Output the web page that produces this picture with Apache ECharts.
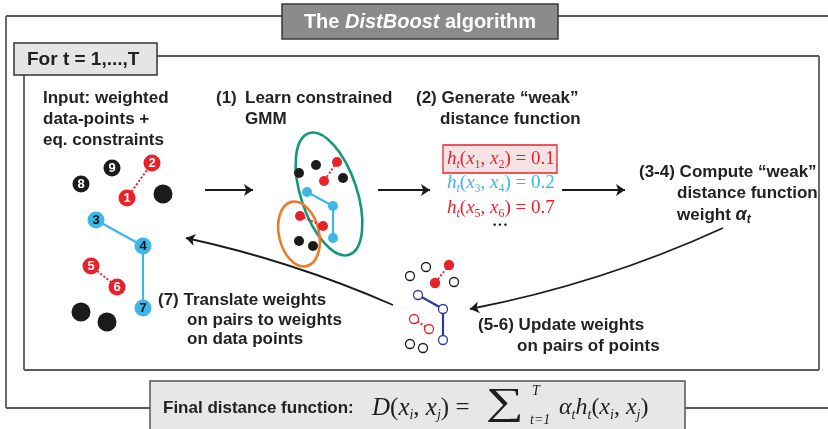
<!DOCTYPE html>
<html>
<head>
<meta charset="utf-8">
<script src="https://cdn.jsdelivr.net/npm/echarts@6/dist/echarts.min.js"></script>
<style>
  html, body { margin: 0; padding: 0; background: #fff; }
  #chart { width: 828px; height: 429px; }
</style>
</head>
<body>
<div id="chart"></div>
<script>
// input data-points (left), pixel-like coordinates on a hidden 828x429 axis
const inputPoints = [[152,163],[112,168],[81,184],[127,198],[163,194],[96,220],[143,246],[91,266],[117,287],[143,308],[81,312],[107,322]];
const inputLabels = ['2','9','8','1','','3','4','5','6','7','',''];
const inputKinds = ['red','black','black','red','black','blue','blue','red','red','blue','black','black'];
const inputEdges = [[3,0],[5,6],[6,9],[7,8]];

// constrained GMM step
const gmmPoints = [[316,165],[299,173],[337,162],[324,181],[343,178],[307,192],[333,206],[333,238],[300,216],[323,226],[299,241],[313,246]];
const gmmKinds = ['black','black','red','red','black','blue','blue','blue','red','red','black','black'];
const gmmEdges = [[2,3],[5,6],[6,7],[8,9]];

// weight update step
const updatePoints = [[410,276],[426,267],[449,265],[435,283],[454,282],[418,295],[443,309],[414,319],[429,329],[443,340],[410,344],[423,348]];
const updateKinds = ['black','black','redFill','redFill','black','navy','navy','red','red','navy','black','black'];
const updateEdges = [[2,3],[5,6],[6,9],[7,8]];

// weak distance function values
const weakPairs = [['1','2'],['3','4'],['5','6']];
const weakValues = ['0.1','0.2','0.7'];

// flow arrows
const arrowStart = [[205,190],[378,190],[562,190],[723,228],[393,305]];
const arrowEnd = [[253,190],[430,190],[625,190],[470,309],[186,238]];
const arrowCurve = [0, 0, 0, 0.06, -0.05];

const colors = {
  red: '#e8222b', black: '#1b1b1b', blue: '#3db7e8', navy: '#2c3a98',
  redFill: '#e8222b', green: '#13987a', orange: '#e97c2c'
};
const SANS = 'Liberation Sans, Arial, sans-serif';
const SERIF = 'Liberation Serif, Times New Roman, serif';

function edgeLines(points, kinds, edges) {
  return edges.map(function (e) {
    const k = kinds[e[0]];
    const dotted = k === 'red' || k === 'redFill';
    return {
      coords: [points[e[0]], points[e[1]]],
      lineStyle: {
        color: colors[k],
        width: dotted ? 2 : 2.2,
        type: dotted ? [2, 2] : 'solid',
        opacity: 1
      }
    };
  });
}

const myChart = echarts.init(document.getElementById('chart'));

const inputData = inputPoints.map(function (p, i) {
  const k = inputKinds[i];
  return {
    value: p,
    symbolSize: inputLabels[i] ? 17 : 19,
    itemStyle: { color: colors[k], opacity: 1 },
    label: {
      show: !!inputLabels[i],
      formatter: inputLabels[i],
      color: k === 'blue' ? '#111' : '#fff'
    }
  };
});

const gmmData = gmmPoints.map(function (p, i) {
  return { value: p, itemStyle: { color: colors[gmmKinds[i]], opacity: 1 } };
});

const updateData = updatePoints.map(function (p, i) {
  const k = updateKinds[i];
  return {
    value: p,
    itemStyle: {
      color: k === 'redFill' ? colors.red : '#fff',
      borderColor: colors[k],
      borderWidth: 1.3,
      opacity: 1
    }
  };
});

const arrowData = arrowStart.map(function (s, i) {
  return { coords: [s, arrowEnd[i]], lineStyle: { curveness: arrowCurve[i] } };
});

// rich text pieces for h_t(x_a, x_b) = v
function weakText(pair, v) {
  return '{i|h}{s|t}{n|(}{i|x}{d|' + pair[0] + '}{n|, }{i|x}{d|' + pair[1] + '}{n|) = ' + v + '}';
}
function weakRich(color) {
  return {
    i: { fontFamily: SERIF, fontStyle: 'italic', fontSize: 19, fill: color, lineHeight: 24 },
    n: { fontFamily: SERIF, fontSize: 19, fill: color, lineHeight: 24 },
    s: { fontFamily: SERIF, fontStyle: 'italic', fontSize: 12, fill: color, lineHeight: 24, padding: [11, 0, 0, 0] },
    d: { fontFamily: SERIF, fontSize: 12, fill: color, lineHeight: 24, padding: [11, 0, 0, 0] }
  };
}
const weakColors = [colors.red, colors.blue, colors.red];
const weakY = [159, 183, 208];

function label(text, x, y, size) {
  return {
    type: 'text',
    style: {
      text: text, x: x, y: y, fill: '#222',
      font: 'bold ' + (size || 17) + 'px ' + SANS,
      textVerticalAlign: 'middle'
    }
  };
}

const frameStroke = { stroke: '#5a5a5a', lineWidth: 1.8 };
function seg(x1, y1, x2, y2) {
  return { type: 'line', shape: { x1: x1, y1: y1, x2: x2, y2: y2 }, style: frameStroke };
}

const fc = '#1e1e1e';
function mathRich(size) {
  return {
    i: { fontFamily: SERIF, fontStyle: 'italic', fontSize: size, fill: fc, lineHeight: 32 },
    n: { fontFamily: SERIF, fontSize: size, fill: fc, lineHeight: 32 },
    s: { fontFamily: SERIF, fontStyle: 'italic', fontSize: 14, fill: fc, lineHeight: 32, padding: [14, 0, 0, 0] }
  };
}

const graphics = [
  // outer frame
  seg(6, 16, 282, 16), seg(558, 16, 828, 16), seg(6, 16, 6, 408),
  seg(6, 408, 150, 408), seg(685, 408, 828, 408),
  // inner frame
  seg(157, 56, 819, 56), seg(819, 56, 819, 370), seg(24, 370, 819, 370), seg(24, 75, 24, 370),
  // title box
  { type: 'rect', shape: { x: 282, y: 4, width: 276, height: 35 },
    style: { fill: '#8b8b8b', stroke: '#3a3a3a', lineWidth: 1.5 } },
  { type: 'text', style: {
      text: '{a|The }{b|DistBoost}{a| algorithm}', x: 420, y: 22,
      textAlign: 'center', textVerticalAlign: 'middle',
      rich: {
        a: { fontFamily: SANS, fontWeight: 'bold', fontSize: 20, fill: '#fff' },
        b: { fontFamily: SANS, fontWeight: 'bold', fontStyle: 'italic', fontSize: 20, fill: '#fff' }
      } } },
  // loop box
  { type: 'rect', shape: { x: 14, y: 43, width: 143, height: 32 },
    style: { fill: '#e5e5e5', stroke: '#333', lineWidth: 1.5 } },
  label('For t = 1,...,T', 27, 60, 19),
  // final box
  { type: 'rect', shape: { x: 150, y: 381, width: 535, height: 52 },
    style: { fill: '#e7e7e7', stroke: '#555', lineWidth: 1.5 } },
  label('Final distance function:', 163, 408, 17),
  // ellipses of the GMM
  { type: 'ellipse', x: 329, y: 194, rotation: 0.32, shape: { cx: 0, cy: 0, rx: 28, ry: 64 },
    style: { fill: 'none', stroke: colors.green, lineWidth: 2.6 } },
  { type: 'ellipse', x: 299, y: 234, rotation: 0.23, shape: { cx: 0, cy: 0, rx: 20, ry: 33 },
    style: { fill: 'none', stroke: colors.orange, lineWidth: 2.6 } },
  // step texts
  label('Input: weighted', 43, 98), label('data-points +', 43, 119), label('eq. constraints', 43, 140),
  label('(1)', 216, 98), label('Learn constrained', 245, 98), label('GMM', 245, 119),
  label('(2) Generate “weak”', 416, 98), label('distance function', 440, 119),
  label('(3-4) Compute “weak”', 639, 172), label('distance function', 677, 193),
  { type: 'text', style: {
      text: '{a|weight }{b|α}{c|t}', x: 677, y: 215, textVerticalAlign: 'middle',
      rich: {
        a: { fontFamily: SANS, fontWeight: 'bold', fontSize: 17, fill: '#222', lineHeight: 22 },
        b: { fontFamily: SANS, fontWeight: 'bold', fontStyle: 'italic', fontSize: 18, fill: '#222', lineHeight: 22 },
        c: { fontFamily: SANS, fontWeight: 'bold', fontStyle: 'italic', fontSize: 12, fill: '#222', lineHeight: 22, padding: [9, 0, 0, 0] }
      } } },
  label('(7) Translate weights', 158, 300), label('on pairs to weights', 187, 320), label('on data points', 187, 339),
  label('(5-6) Update weights', 478, 325), label('on pairs of points', 517, 346),
  // weak distance function list
  { type: 'rect', shape: { x: 443, y: 145, width: 114, height: 28 },
    style: { fill: '#f4e2e4', stroke: colors.red, lineWidth: 1.3 } },
  { type: 'text', style: { text: '···', x: 500, y: 226, textAlign: 'center', textVerticalAlign: 'middle',
      font: 'bold 16px ' + SERIF, fill: '#222' } },
  // final distance function formula
  { type: 'text', style: {
      text: '{i|D}{n|(}{i|x}{s|i}{n|, }{i|x}{s|j}{n|) =}', x: 372, y: 408,
      textVerticalAlign: 'middle', rich: mathRich(25) } },
  { type: 'text', x: 486, y: 404, scaleX: 1.4, style: { text: '∑', x: 0, y: 0, textVerticalAlign: 'middle',
      font: '38px ' + SERIF, fill: fc } },
  { type: 'text', style: { text: 'T', x: 532, y: 391, textVerticalAlign: 'middle',
      font: 'italic 14px ' + SERIF, fill: fc } },
  { type: 'text', style: { text: 't=1', x: 530, y: 420, textVerticalAlign: 'middle',
      font: 'italic 14px ' + SERIF, fill: fc } },
  { type: 'text', style: {
      text: '{i|α}{s|t}{i|h}{s|t}{n|(}{i|x}{s|i}{n|, }{i|x}{s|j}{n|)}', x: 559, y: 408,
      textVerticalAlign: 'middle', rich: mathRich(24) } }
];

weakValues.forEach(function (v, i) {
  graphics.push({ type: 'text', z: 10, style: {
    text: weakText(weakPairs[i], v), x: 447, y: weakY[i], textVerticalAlign: 'middle',
    rich: weakRich(weakColors[i]) } });
});

const option = {
  animation: false,
  grid: { left: 0, right: 0, top: 0, bottom: 0 },
  xAxis: { type: 'value', min: 0, max: 828, show: false },
  yAxis: { type: 'value', min: 0, max: 429, inverse: true, show: false },
  graphic: graphics,
  series: [
    {
      type: 'lines', coordinateSystem: 'cartesian2d', z: 1,
      data: edgeLines(inputPoints, inputKinds, inputEdges)
        .concat(edgeLines(gmmPoints, gmmKinds, gmmEdges))
        .concat(edgeLines(updatePoints, updateKinds, updateEdges))
    },
    {
      type: 'lines', coordinateSystem: 'cartesian2d', z: 1,
      symbol: ['none', 'arrow'], symbolSize: 9,
      lineStyle: { color: '#1b1b1b', width: 1.8, opacity: 1 },
      data: arrowData
    },
    {
      type: 'scatter', name: 'input', z: 3, symbol: 'circle',
      label: { position: 'inside', fontFamily: SANS, fontWeight: 'bold', fontSize: 13 },
      data: inputData
    },
    { type: 'scatter', name: 'gmm', z: 3, symbolSize: 10, data: gmmData },
    { type: 'scatter', name: 'update', z: 3, symbolSize: 9, data: updateData }
  ]
};

myChart.setOption(option);
</script>
</body>
</html>
